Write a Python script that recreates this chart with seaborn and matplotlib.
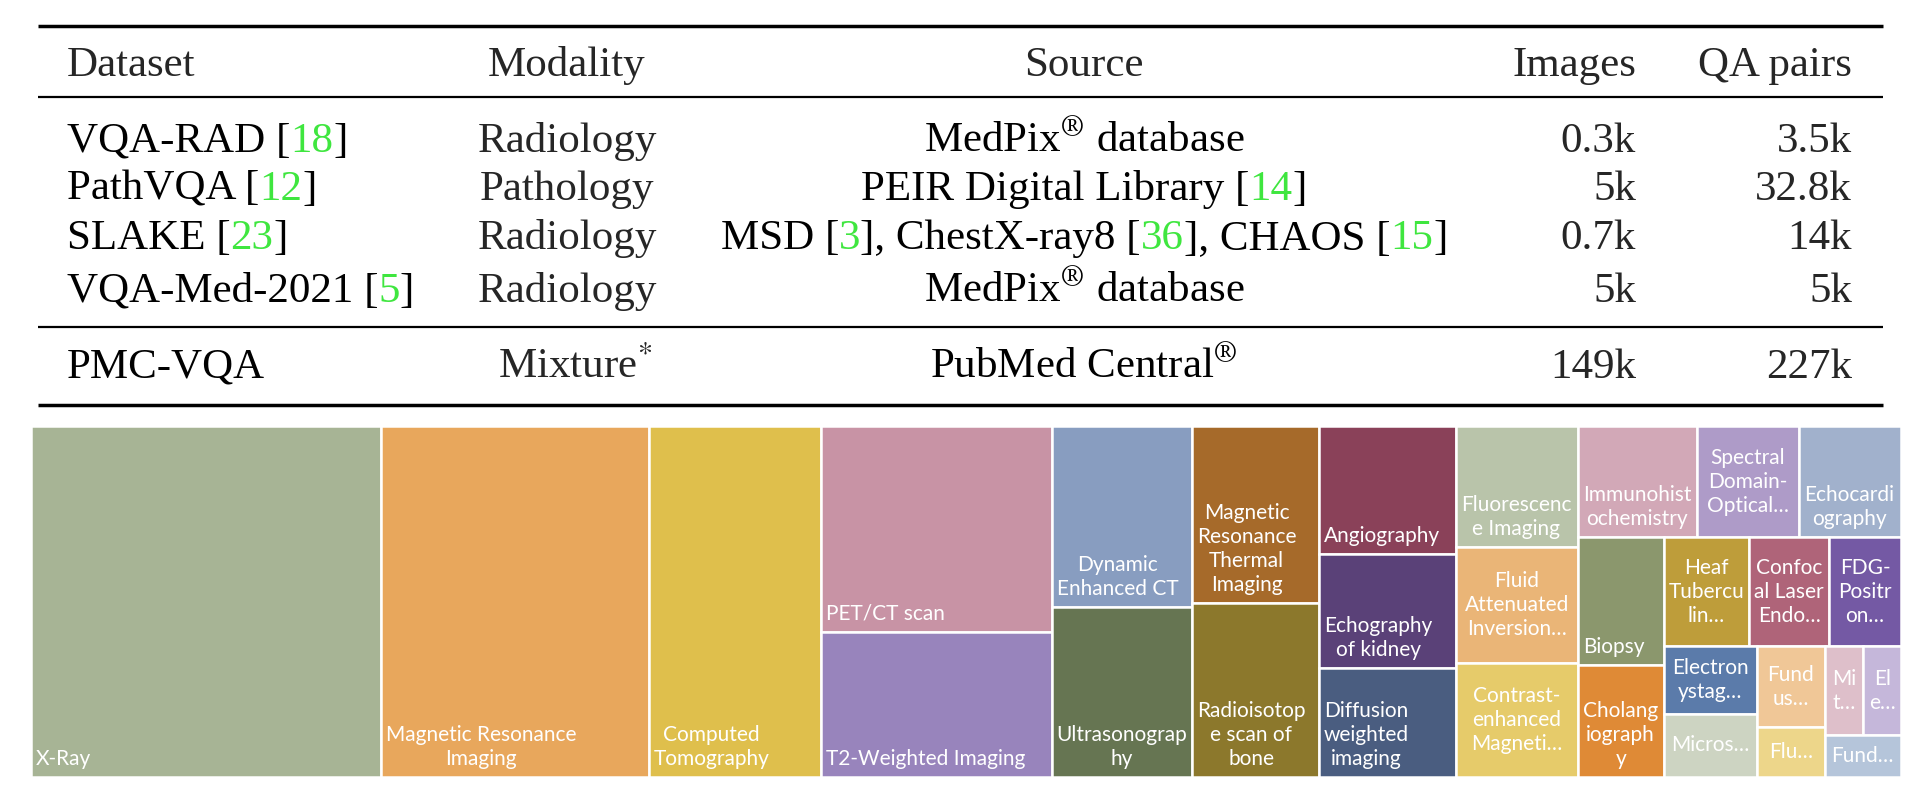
import seaborn as sns
import matplotlib.pyplot as plt

# ---- table data ----
header = ['Dataset', 'Modality', 'Source', 'Images', 'QA pairs']
dataset_names = ['VQA-RAD', 'PathVQA', 'SLAKE', 'VQA-Med-2021', 'PMC-VQA']
dataset_refs = ['18', '12', '23', '5', None]
modalities = ['Radiology', 'Pathology', 'Radiology', 'Radiology', 'Mixture$^{*}$']
# odd entries are citation numbers (drawn green)
sources = [
    [r'MedPix$^{\circledR}$ database'],
    ['PEIR Digital Library [', '14', ']'],
    ['MSD [', '3', '], ChestX-ray8 [', '36', '], CHAOS [', '15', ']'],
    [r'MedPix$^{\circledR}$ database'],
    [r'PubMed Central$^{\circledR}$'],
]
images = ['0.3k', '5k', '0.7k', '5k', '149k']
qa_pairs = ['3.5k', '32.8k', '14k', '5k', '227k']

# ---- treemap data (relative sizes) ----
modality_labels = [
    'X-Ray', 'Magnetic Resonance\nImaging', 'Computed\nTomography',
    'PET/CT scan', 'T2-Weighted Imaging',
    'Dynamic\nEnhanced CT', 'Ultrasonograp\nhy',
    'Magnetic\nResonance\nThermal\nImaging', 'Radioisotop\ne scan of\nbone',
    'Angiography', 'Echography\nof kidney', 'Diffusion\nweighted\nimaging',
    'Fluorescenc\ne Imaging', 'Fluid\nAttenuated\nInversion…', 'Contrast-\nenhanced\nMagneti…',
    'Immunohist\nochemistry', 'Spectral\nDomain-\nOptical…', 'Echocardi\nography',
    'Biopsy', 'Cholang\niograph\ny',
    'Heaf\nTubercu\nlin…', 'Confoc\nal Laser\nEndo…', 'FDG-\nPositr\non…',
    'Electron\nystag…', 'Micros…',
    'Fund\nus…', 'Flu…',
    'Mi\nt…', 'El\ne…',
    'Fund…',
]
modality_sizes = [
    122680, 94070, 60370,
    47590, 33500,
    25430, 23890,
    22420, 22160,
    17540, 15620, 14930,
    14760, 14150, 13910,
    13150, 11430, 11270,
    10940, 9580,
    9360, 8760, 7880,
    6310, 5890,
    5430, 3380,
    3450, 3320,
    3210,
]
modality_colors = [
    '#A7B495', '#E8A75C', '#DFBF4C',
    '#C893A5', '#9884BC',
    '#889DC0', '#667552',
    '#A66A2A', '#8C782C',
    '#8A4159', '#5A4178', '#4A5D80',
    '#B9C4AA', '#EAB577', '#E6CB6A',
    '#D2A8B7', '#AE9BC8', '#A1B1CC',
    '#8B976D', '#DF8A36',
    '#BE9D3A', '#AF6479', '#7459A4',
    '#5B7BAA', '#CDD4C2',
    '#F0C797', '#EDD68A',
    '#DEBFCA', '#C5B7DA',
    '#B5C5DA',
]
# strips of the squarified layout: (direction, number of tiles)
strips = [('col', 1), ('col', 1), ('col', 1), ('col', 2), ('col', 2), ('col', 2),
          ('col', 3), ('col', 3), ('row', 3), ('col', 2), ('row', 3), ('col', 2),
          ('col', 2), ('row', 2), ('row', 1)]

GREEN = '#3fe63f'
FS = 31


def strip_layout(sizes, strips, x, y, w, h):
    scale = w * h / sum(sizes)
    areas = [s * scale for s in sizes]
    rects = []
    i = 0
    for direction, n in strips:
        group = areas[i:i + n]
        i += n
        total = sum(group)
        if direction == 'col':
            cw = total / h
            yy = y
            for a in group:
                rects.append((x, yy, cw, a / cw))
                yy += a / cw
            x += cw
            w -= cw
        else:
            rh = total / w
            xx = x
            for a in group:
                rects.append((xx, y, a / rh, rh))
                xx += a / rh
            y += rh
            h -= rh
    return rects


sns.set_style('white')
plt.rcParams['font.family'] = ['Liberation Serif', 'DejaVu Serif']
plt.rcParams['mathtext.fontset'] = 'stix'

fig = plt.figure(figsize=(19.2, 8.08), dpi=100)
renderer = fig.canvas.get_renderer()

# ---- table ----
tab = fig.add_axes([0, 0, 1, 1])
tab.set_xlim(0, 1920)
tab.set_ylim(808, 0)
tab.set_axis_off()


def text_width(s):
    t = tab.text(0, 0, s, fontsize=FS)
    w = t.get_window_extent(renderer).width
    t.remove()
    return w


def draw_parts(x, y, parts, ha='left'):
    total = text_width(''.join(parts))
    if ha == 'center':
        x0 = x - total / 2
    elif ha == 'right':
        x0 = x - total
    else:
        x0 = x
    prefix = ''
    for k, p in enumerate(parts):
        prefix += p
        left = x0 + text_width(prefix) - text_width(p)
        tab.text(left, y, p, fontsize=FS, color=GREEN if k % 2 else 'black',
                 ha='left', va='baseline')


tab.hlines([26, 405], 38, 1883, color='black', lw=2.5)
tab.hlines([97, 327], 38, 1883, color='black', lw=1.6)

col_x = [67, 567, 1084, 1636, 1852]
col_ha = ['left', 'center', 'center', 'right', 'right']
for name, x, ha in zip(header, col_x, col_ha):
    tab.text(x, 76, name, fontsize=FS, ha=ha, va='baseline')

row_y = [152, 200, 249, 302, 378]
for i, y in enumerate(row_y):
    if dataset_refs[i]:
        draw_parts(col_x[0], y, [dataset_names[i] + ' [', dataset_refs[i], ']'])
    else:
        draw_parts(col_x[0], y, [dataset_names[i]])
    mod_x = col_x[1] + (8 if '$' in modalities[i] else 0)
    tab.text(mod_x, y, modalities[i], fontsize=FS, ha='center', va='baseline')
    draw_parts(col_x[2], y, sources[i], ha='center')
    tab.text(col_x[3], y, images[i], fontsize=FS, ha='right', va='baseline')
    tab.text(col_x[4], y, qa_pairs[i], fontsize=FS, ha='right', va='baseline')

# ---- treemap ----
TW, TH = 1870, 351
ax = fig.add_axes([31 / 1920, (808 - 777) / 808, TW / 1920, TH / 808])
rects = strip_layout(modality_sizes, strips, 0, 0, TW, TH)
ax.bar([r[0] for r in rects], [r[3] for r in rects], width=[r[2] for r in rects],
       bottom=[r[1] for r in rects], align='edge', color=modality_colors,
       edgecolor='white', linewidth=1.8)
ax.set_xlim(0, TW)
ax.set_ylim(TH, 0)
ax.set_axis_off()

for (x, y, w, h), label in zip(rects, modality_labels):
    style = dict(color='white', fontsize=15, family=['Lato', 'DejaVu Sans'],
                 multialignment='center', linespacing=1.25)
    if '…' in label:
        ax.text(x + w / 2, y + h / 2, label, ha='center', va='center', **style)
    else:
        ax.text(x + 5, y + h - 8, label, ha='left', va='bottom', **style)

fig.savefig('out.png', dpi=100)
